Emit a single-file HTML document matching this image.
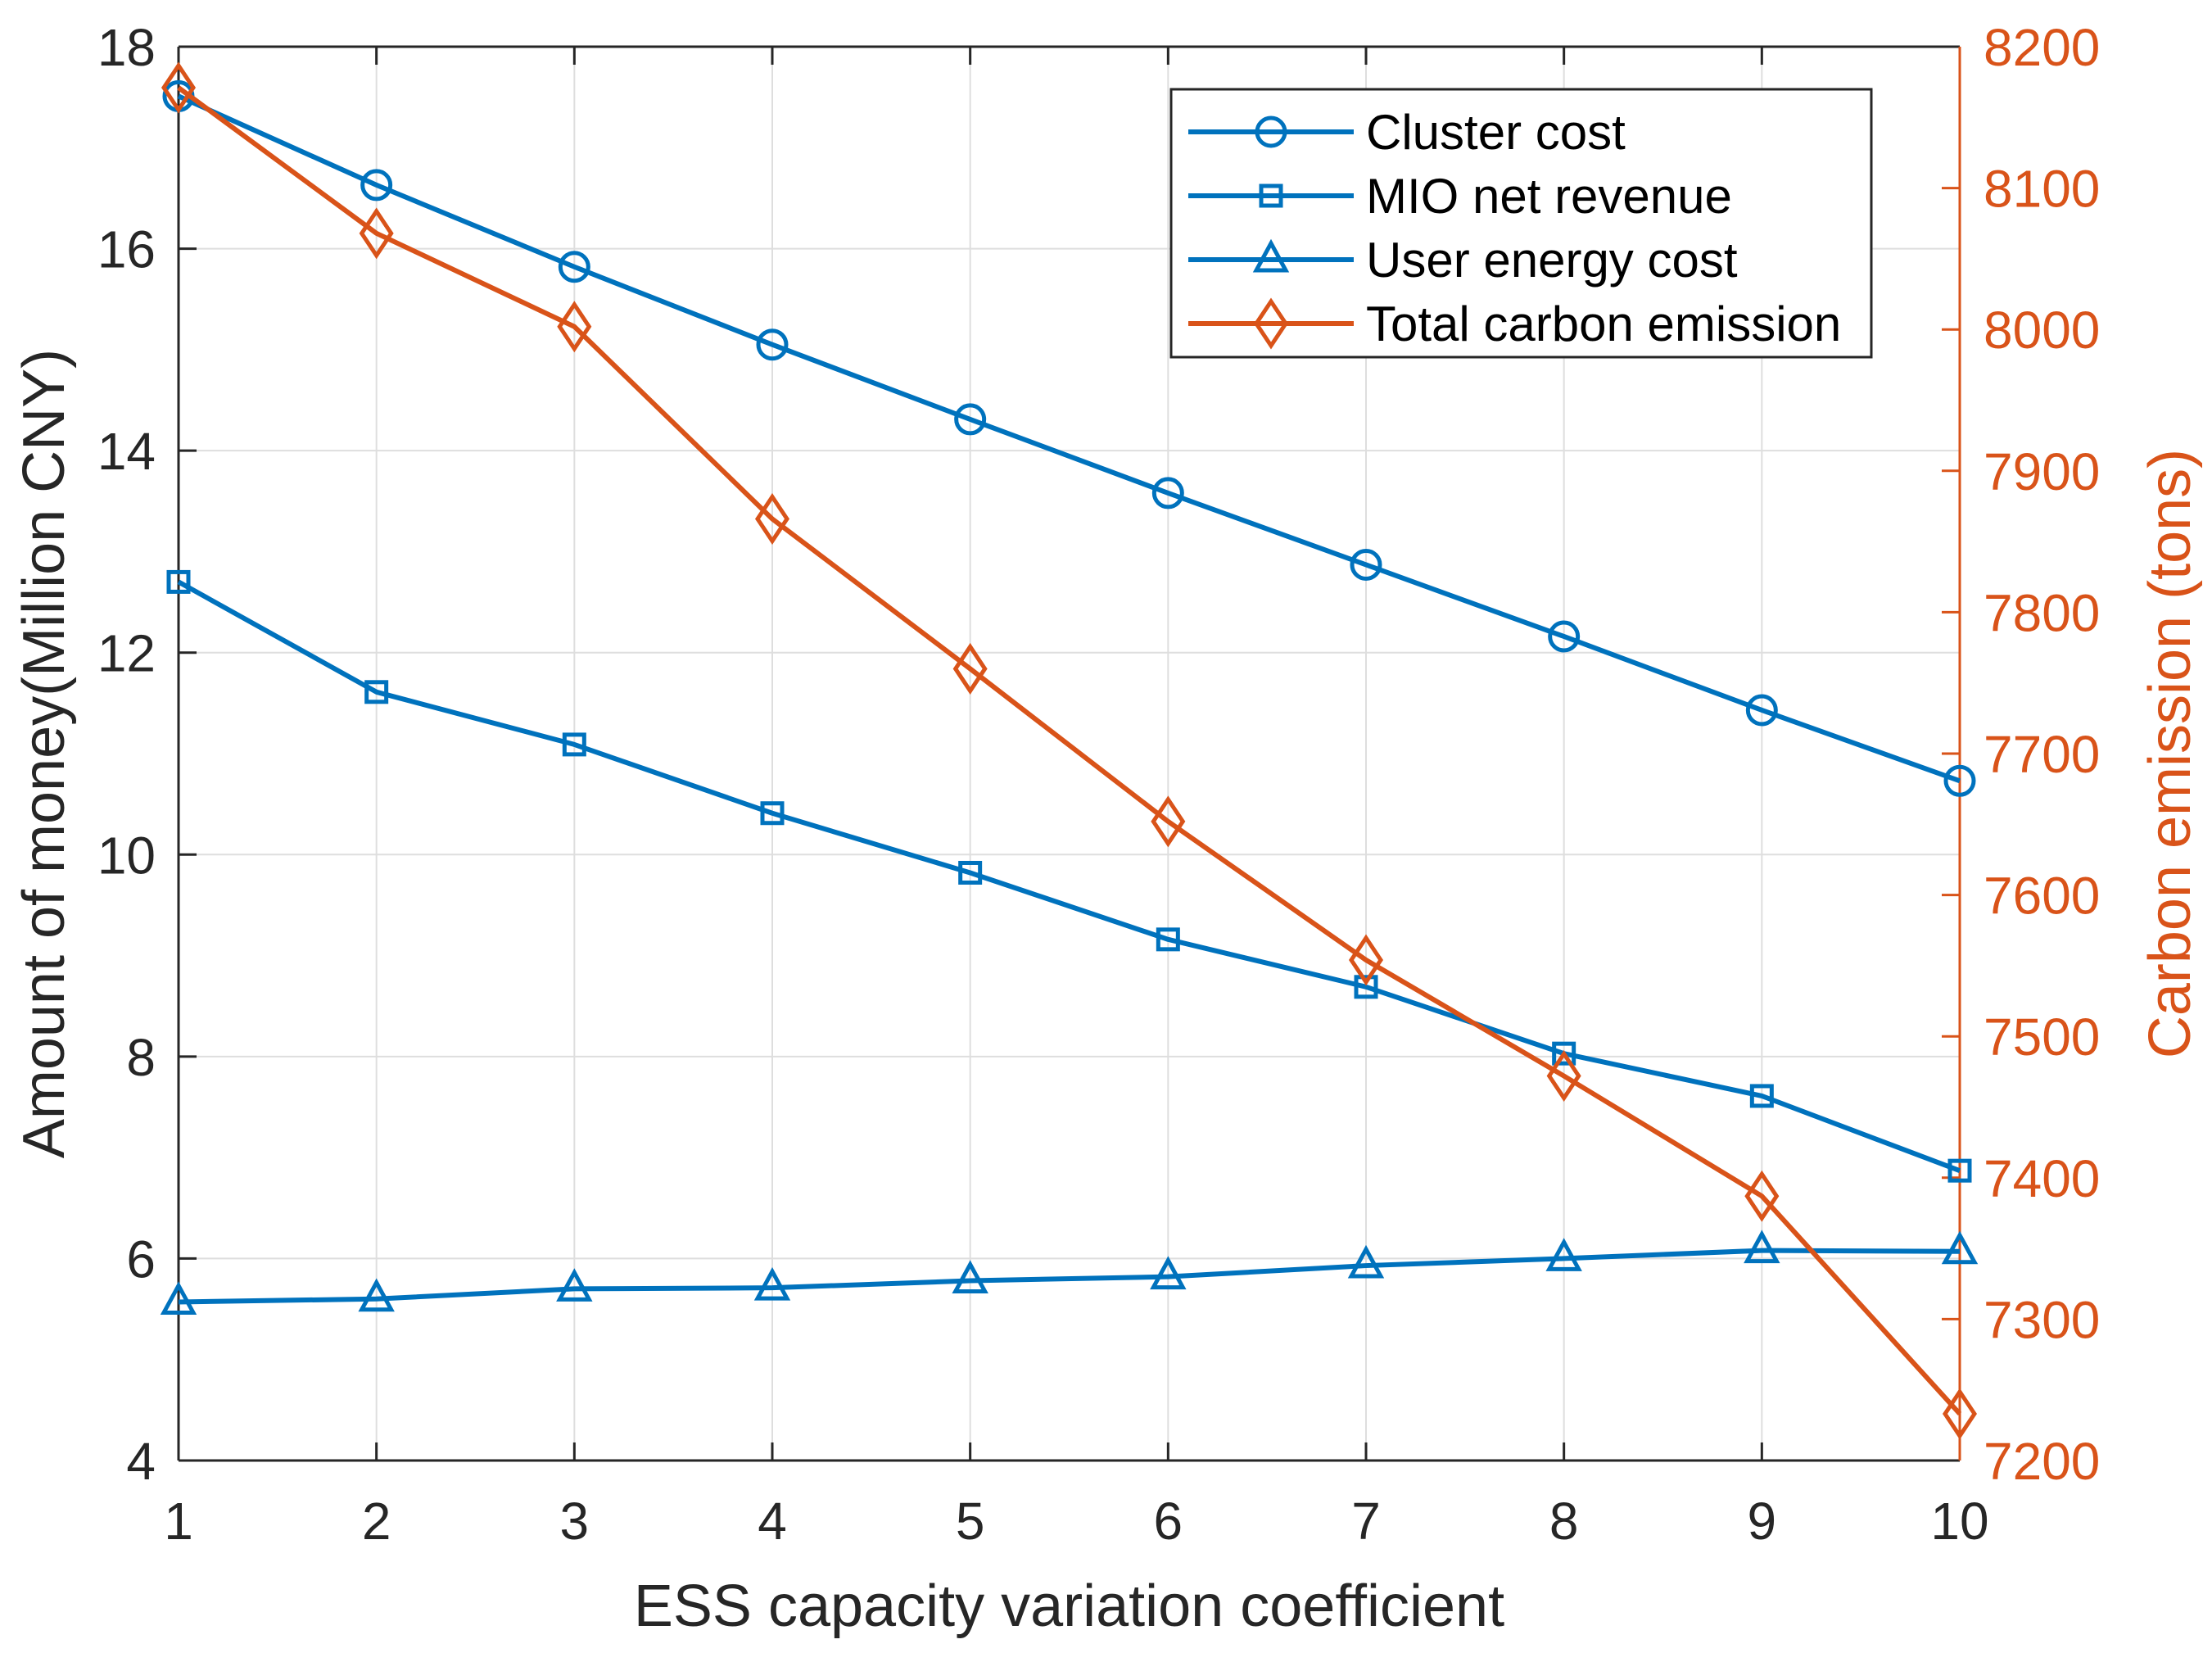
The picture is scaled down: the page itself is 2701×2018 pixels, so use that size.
<!DOCTYPE html>
<html><head><meta charset="utf-8"><style>
html,body{margin:0;padding:0;background:#fff}
svg{display:block;font-family:"Liberation Sans",Arial,sans-serif}
</style></head><body>
<svg id="chart" width="2701" height="2018" viewBox="0 0 2701 2018" xmlns="http://www.w3.org/2000/svg">
<g id="grid"></g>
<g id="axes"></g>
<g id="series"></g>
<g id="legend"></g>
</svg>
<script>
const categories = [1,2,3,4,5,6,7,8,9,10];
const clusterCost = [17.51,16.63,15.82,15.05,14.31,13.58,12.87,12.16,11.43,10.73];
const mioRevenue = [12.70,11.61,11.09,10.41,9.82,9.16,8.69,8.03,7.61,6.87];
const userCost = [5.57,5.60,5.70,5.71,5.78,5.82,5.93,6.00,6.08,6.07];
const carbon = [8171,8068,8002,7866,7760,7652,7554,7472,7387,7233];
const leftTicks = [4,6,8,10,12,14,16,18];
const rightTicks = [7200,7300,7400,7500,7600,7700,7800,7900,8000,8100,8200];
const legendLabels = ["Cluster cost","MIO net revenue","User energy cost","Total carbon emission"];

const NS="http://www.w3.org/2000/svg";
const L=218,R=2393,T=57,B=1783;
const BLUE="#0072BD",ORANGE="#D95319";
const xS=v=>L+(v-1)/(10-1)*(R-L);
const yL=v=>B-(v-4)/(18-4)*(B-T);
const yR=v=>B-(v-7200)/(8200-7200)*(B-T);
function mk(tag,attrs,parent,text){const e=document.createElementNS(NS,tag);for(const k in attrs)e.setAttribute(k,attrs[k]);if(text!==undefined)e.textContent=text;parent.appendChild(e);return e;}
const grid=document.getElementById('grid'),axes=document.getElementById('axes'),series=document.getElementById('series'),legend=document.getElementById('legend');

categories.forEach(c=>{
  const g=mk('line',{x1:xS(c),x2:xS(c),y1:T,y2:B,stroke:'#dedede','stroke-width':2},grid);
  
  
  mk('line',{x1:xS(c),x2:xS(c),y1:B,y2:B-22,stroke:'#262626','stroke-width':3},axes);
  mk('line',{x1:xS(c),x2:xS(c),y1:T,y2:T+22,stroke:'#262626','stroke-width':3},axes);
  const t=mk('text',{x:xS(c),y:1879,'text-anchor':'middle','font-size':64,fill:'#262626'},axes,String(c));
  
  
});
leftTicks.forEach(v=>{
  const g=mk('line',{x1:L,x2:R,y1:yL(v),y2:yL(v),stroke:'#dedede','stroke-width':2},grid);
  
  
  mk('line',{x1:L,x2:L+22,y1:yL(v),y2:yL(v),stroke:'#262626','stroke-width':3},axes);
  const t=mk('text',{x:190,y:yL(v)+23,'text-anchor':'end','font-size':64,fill:'#262626'},axes,String(v));
  
  
});
rightTicks.forEach(v=>{
  mk('line',{x1:R,x2:R-22,y1:yR(v),y2:yR(v),stroke:ORANGE,'stroke-width':3},axes);
  const t=mk('text',{x:2422,y:yR(v)+23,'font-size':64,fill:ORANGE},axes,String(v));
  
  
});
mk('line',{x1:L,x2:R,y1:T,y2:T,stroke:'#262626','stroke-width':3},axes);
mk('line',{x1:L,x2:R,y1:B,y2:B,stroke:'#262626','stroke-width':3},axes);
mk('line',{x1:L,x2:L,y1:T,y2:B,stroke:'#262626','stroke-width':3},axes);
mk('line',{x1:R,x2:R,y1:T,y2:B,stroke:ORANGE,'stroke-width':3},axes);
let t=mk('text',{x:(L+R)/2,y:1985,'text-anchor':'middle','font-size':72,fill:'#262626'},axes,'ESS capacity variation coefficient');


t=mk('text',{x:0,y:0,'text-anchor':'middle','font-size':72,fill:'#262626',transform:`translate(78,${(T+B)/2}) rotate(-90)`},axes,'Amount of money(Million CNY)');


t=mk('text',{x:0,y:0,'text-anchor':'middle','font-size':72,fill:ORANGE,transform:`translate(2674,${(T+B)/2}) rotate(-90)`},axes,'Carbon emission (tons)');



function marker(type,x,y,color,parent){
  const st={fill:'none',stroke:color,'stroke-width':5};
  let e;
  if(type==='o') e=mk('circle',Object.assign({cx:x,cy:y,r:17},st),parent);
  else if(type==='s') e=mk('rect',Object.assign({x:x-12,y:y-12,width:24,height:24},st),parent);
  else if(type==='^') e=mk('polygon',Object.assign({points:`${x},${y-20} ${x+18},${y+13} ${x-18},${y+13}`},st),parent);
  else e=mk('polygon',Object.assign({points:`${x},${y-27} ${x+18},${y} ${x},${y+27} ${x-18},${y}`},st),parent);
  return e;
}
function drawSeries(vals,yf,color,type,name){
  const g=mk('g',{},series);
  
  
  const pts=vals.map((v,i)=>xS(categories[i])+','+yf(v)).join(' ');
  const pl=mk('polyline',{points:pts,fill:'none',stroke:color,'stroke-width':6,'stroke-linejoin':'round'},g);
  
  
  vals.forEach((v,i)=>{
    const m=marker(type,xS(categories[i]),yf(v),color,g);
    
    
  });
}
drawSeries(clusterCost,yL,BLUE,'o','cluster-cost-series');
drawSeries(mioRevenue,yL,BLUE,'s','mio-net-revenue-series');
drawSeries(userCost,yL,BLUE,'^','user-energy-cost-series');
drawSeries(carbon,yR,ORANGE,'d','total-carbon-emission-series');

const box=mk('rect',{x:1430,y:109,width:855,height:327,fill:'#fff',stroke:'#262626','stroke-width':3},legend);


const lt=['o','s','^','d'],lc=[BLUE,BLUE,BLUE,ORANGE],ly=[161,239,317,395];
legendLabels.forEach((lab,i)=>{
  const g=mk('g',{},legend);
  
  
  mk('line',{x1:1451,x2:1653,y1:ly[i],y2:ly[i],stroke:lc[i],'stroke-width':6},g);
  marker(lt[i],1552,ly[i],lc[i],g);
  mk('text',{x:1668,y:ly[i]+21,'font-size':60,fill:'#000'},g,lab);
});
</script>
</body></html>
